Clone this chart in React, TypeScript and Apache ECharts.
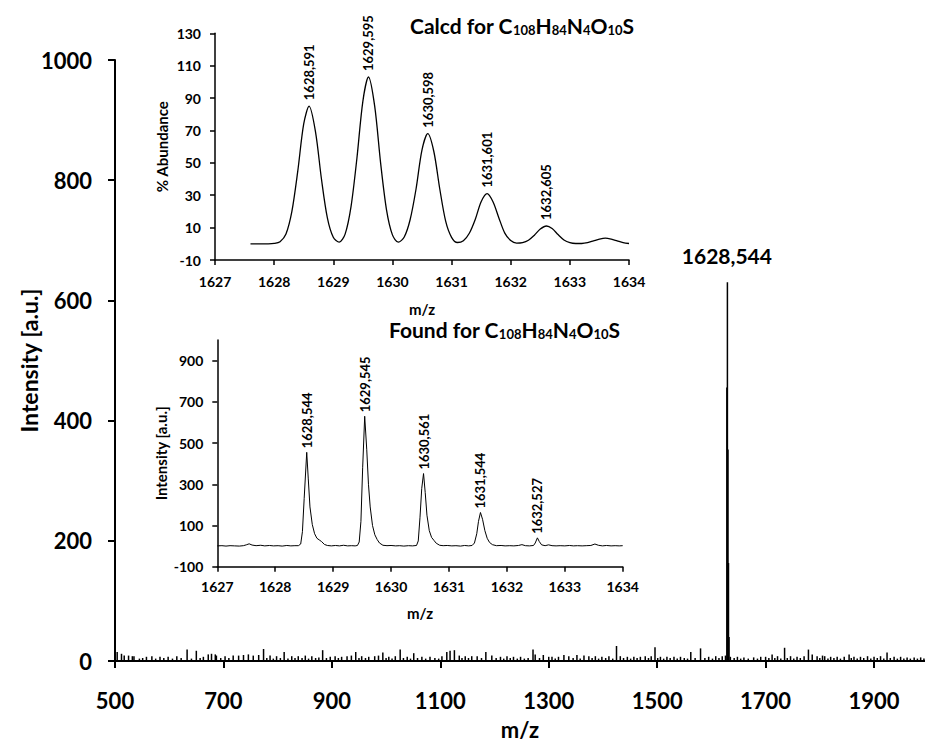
import { useEffect, useRef } from "react";
import * as echarts from "echarts";

// ---- survey spectrum (m/z 500–2000) ----
const surveyXTicks = [500, 700, 900, 1100, 1300, 1500, 1700, 1900];
const surveyYTicks = [0, 200, 400, 600, 800, 1000];

// background spikes of the survey trace: [m/z, intensity]
const surveyNoise: [number, number][] = [
  [504, 15], [512, 12], [517, 9], [525, 9], [532, 8], [535, 8], [545, 4], [551, 5], [558, 7], [568, 8],
  [575, 4], [583, 7], [590, 5], [598, 7], [606, 4], [614, 8], [622, 5], [633, 19], [641, 4], [650, 17],
  [657, 5], [663, 7], [672, 11], [678, 12], [685, 11], [687, 9], [695, 5], [703, 8], [710, 5], [718, 9],
  [728, 9], [737, 10], [746, 11], [755, 9], [765, 10], [774, 20], [780, 5], [786, 9], [792, 4], [798, 8],
  [805, 5], [812, 15], [819, 4], [826, 8], [832, 5], [838, 8], [845, 5], [851, 9], [857, 4], [863, 8],
  [870, 5], [876, 6], [883, 18], [890, 5], [897, 7], [906, 8], [912, 5], [918, 7], [928, 8], [936, 9],
  [944, 15], [950, 5], [955, 8], [962, 5], [968, 7], [979, 8], [986, 9], [994, 14], [1000, 5], [1005, 7],
  [1011, 4], [1017, 8], [1026, 19], [1032, 5], [1039, 7], [1045, 4], [1051, 13], [1058, 5], [1066, 7], [1073, 4],
  [1081, 7], [1090, 5], [1097, 4], [1103, 8], [1112, 15], [1118, 17], [1126, 18], [1135, 9], [1140, 5], [1146, 8],
  [1152, 5], [1158, 8], [1168, 8], [1176, 5], [1184, 15], [1195, 9], [1203, 5], [1211, 7], [1217, 4], [1223, 8],
  [1229, 5], [1235, 7], [1242, 4], [1248, 7], [1255, 4], [1262, 5], [1271, 19], [1275, 11], [1283, 5], [1290, 10],
  [1300, 7], [1306, 7], [1312, 4], [1318, 7], [1328, 10], [1337, 8], [1345, 5], [1352, 10], [1358, 4], [1365, 9],
  [1374, 8], [1380, 5], [1386, 8], [1392, 4], [1398, 7], [1405, 5], [1411, 8], [1418, 4], [1425, 25], [1432, 8],
  [1438, 5], [1445, 7], [1451, 4], [1457, 7], [1463, 5], [1469, 7], [1478, 8], [1484, 5], [1489, 8], [1496, 23],
  [1501, 5], [1506, 7], [1512, 4], [1518, 7], [1524, 5], [1531, 7], [1537, 4], [1543, 7], [1550, 5], [1556, 4],
  [1562, 15], [1570, 5], [1580, 21], [1588, 5], [1595, 7], [1602, 4], [1608, 8], [1614, 5], [1620, 8], [1626, 9],
  [1635, 7], [1642, 5], [1648, 7], [1654, 4], [1660, 6], [1668, 4], [1678, 6], [1685, 4], [1691, 7], [1700, 7],
  [1706, 5], [1712, 11], [1717, 5], [1722, 8], [1728, 4], [1735, 22], [1740, 5], [1746, 8], [1752, 4], [1758, 7],
  [1764, 5], [1771, 8], [1779, 19], [1786, 11], [1795, 8], [1800, 5], [1805, 9], [1809, 8], [1815, 4], [1820, 7],
  [1826, 5], [1832, 7], [1838, 4], [1845, 7], [1854, 11], [1858, 5], [1863, 7], [1869, 4], [1875, 7], [1881, 5],
  [1888, 8], [1894, 4], [1900, 7], [1906, 5], [1912, 8], [1918, 4], [1924, 14], [1930, 5], [1937, 7], [1943, 4],
  [1949, 7], [1955, 4], [1961, 6], [1967, 4], [1974, 6], [1980, 4], [1986, 6], [1992, 4],
];

// ---- molecular-ion cluster, found (shared by the survey trace and the zoomed trace) ----
const foundPeakMz = [1628.544, 1629.545, 1630.561, 1631.544, 1632.527];
const foundPeakIntensity = [455, 630, 352, 163, 40];

// zoomed found trace, points between the apexes: [m/z, intensity]
const foundProfile: [number, number][] = [
  [1627.0, 1], [1627.08, 2], [1627.15, 0], [1627.22, 2], [1627.3, 1], [1627.38, 0], [1627.45, 2], [1627.5, 6],
  [1627.55, 11], [1627.6, 5], [1627.67, 2], [1627.75, 4], [1627.82, 1], [1627.9, 3], [1627.97, 1], [1628.05, 2],
  [1628.12, 0], [1628.2, 3], [1628.27, 1], [1628.34, 2], [1628.4, 2], [1628.44, 10], [1628.47, 70], [1628.5, 230],
  [1628.57, 330], [1628.6, 190], [1628.64, 105], [1628.68, 60], [1628.72, 38], [1628.76, 30], [1628.8, 22],
  [1628.85, 8], [1628.9, 3], [1628.97, 1], [1629.04, 3], [1629.11, 1], [1629.18, 4], [1629.25, 1], [1629.32, 2],
  [1629.38, 1], [1629.42, 3], [1629.45, 20], [1629.48, 120], [1629.51, 380],
  [1629.58, 470], [1629.61, 300], [1629.64, 190], [1629.68, 100], [1629.72, 55], [1629.76, 32], [1629.8, 15],
  [1629.86, 4], [1629.93, 2], [1630.0, 3], [1630.08, 1], [1630.15, 2], [1630.22, 0], [1630.3, 2], [1630.37, 1],
  [1630.44, 3], [1630.47, 25], [1630.5, 140], [1630.53, 280],
  [1630.59, 260], [1630.62, 150], [1630.66, 75], [1630.7, 42], [1630.74, 28], [1630.78, 14], [1630.84, 4],
  [1630.9, 2], [1630.97, 3], [1631.05, 1], [1631.12, 2], [1631.2, 0], [1631.27, 3], [1631.34, 1], [1631.4, 3],
  [1631.44, 15], [1631.48, 60], [1631.51, 120],
  [1631.58, 130], [1631.62, 75], [1631.66, 38], [1631.7, 18], [1631.75, 7], [1631.82, 2], [1631.9, 3],
  [1631.97, 1], [1632.05, 2], [1632.12, 1], [1632.2, 3], [1632.26, 7], [1632.32, 2], [1632.39, 1], [1632.46, 3],
  [1632.49, 15],
  [1632.56, 22], [1632.6, 6], [1632.66, 2], [1632.72, 6], [1632.78, 2], [1632.85, 1], [1632.92, 2], [1633.0, 1],
  [1633.08, 3], [1633.15, 1], [1633.22, 2], [1633.3, 1], [1633.37, 2], [1633.45, 3], [1633.52, 10], [1633.58, 4],
  [1633.65, 1], [1633.72, 3], [1633.8, 1], [1633.87, 2], [1633.94, 1], [1634.0, 2],
];

// ---- calculated isotope pattern ----
const calcdPeakMz = [1628.591, 1629.595, 1630.598, 1631.601, 1632.605];
const calcdPeakAbundance = [85, 103, 68, 31, 11];

// calculated envelope, points between the labelled apexes: [m/z, % abundance]
const calcdProfile: [number, number][] = [
  [1627.6, 0], [1627.7, 0], [1627.8, 0], [1627.9, 0], [1628.0, 0.2], [1628.1, 1.3], [1628.2, 6], [1628.3, 20],
  [1628.4, 45], [1628.5, 74], [1628.7, 69], [1628.8, 40], [1628.9, 16], [1629.0, 4], [1629.1, 1], [1629.2, 6],
  [1629.3, 23], [1629.4, 53], [1629.5, 88], [1629.7, 85], [1629.8, 50], [1629.9, 21], [1630.0, 5.5], [1630.1, 1],
  [1630.2, 4.2], [1630.3, 15], [1630.4, 34], [1630.5, 58], [1630.7, 57], [1630.8, 34], [1630.9, 14], [1631.0, 4],
  [1631.1, 0.8], [1631.2, 1.9], [1631.3, 6.5], [1631.4, 15], [1631.5, 26], [1631.7, 26], [1631.8, 16], [1631.9, 6.6],
  [1632.0, 2], [1632.1, 0.4], [1632.2, 0.7], [1632.3, 2.2], [1632.4, 5.3], [1632.5, 9.1], [1632.7, 9.4], [1632.8, 5.7],
  [1632.9, 2.4], [1633.0, 0.7], [1633.1, 0.2], [1633.2, 0.2], [1633.3, 0.7], [1633.4, 1.8], [1633.5, 2.9], [1633.6, 3.5],
  [1633.7, 2.9], [1633.8, 1.8], [1633.9, 0.7], [1634.0, 0.2],
];

const insetXTicks = [1627, 1628, 1629, 1630, 1631, 1632, 1633, 1634];
const calcdYTicks = [-10, 10, 30, 50, 70, 90, 110, 130];
const foundYTicks = [-100, 100, 300, 500, 700, 900];

const FONT = "Lato";
const txt = (size: number) => ({
  fontFamily: FONT,
  fontWeight: "bold" as const,
  fontSize: size,
  color: "#000",
});
const mzText = (v: number) => v.toFixed(3).replace(".", ",");
const byMz = (a: number[], b: number[]) => a[0] - b[0];

function valueAxis(
  gridIndex: number,
  min: number,
  max: number,
  ticks: number[],
  o: { width: number; tick: number; size: number; margin: number; name: string; nameGap: number; nameSize: number }
) {
  return {
    type: "value",
    gridIndex,
    min,
    max,
    name: o.name,
    nameLocation: "middle",
    nameGap: o.nameGap,
    nameMoveOverlap: false,
    nameTextStyle: txt(o.nameSize),
    axisLine: { show: true, onZero: false, lineStyle: { color: "#000", width: o.width } },
    axisTick: {
      show: true,
      inside: false,
      length: o.tick,
      customValues: ticks,
      lineStyle: { color: "#000", width: o.width },
    },
    axisLabel: {
      ...txt(o.size),
      margin: o.margin,
      customValues: ticks,
      formatter: (v: number) => String(v),
    },
    splitLine: { show: false },
  };
}

function formula(lead: string) {
  return `{b|${lead} C}{s|108}{b|H}{s|84}{b|N}{s|4}{b|O}{s|10}{b|S}`;
}
const formulaRich = {
  b: { ...txt(21), lineHeight: 24, verticalAlign: "bottom" },
  s: { ...txt(13), lineHeight: 9, verticalAlign: "bottom" },
};

// label markers are invisible points; keep their text fully opaque
const markerStyle = { color: "#000", opacity: 1 };

export default function App() {
  const ref = useRef<HTMLDivElement>(null);

  useEffect(() => {
    if (!ref.current) return;
    const chart = echarts.init(ref.current, undefined, { renderer: "svg" });

    const surveyData = [...surveyNoise, ...foundPeakMz.map((m, i) => [m, foundPeakIntensity[i]] as [number, number])].sort(byMz);
    const foundData = [...foundProfile, ...foundPeakMz.map((m, i) => [m, foundPeakIntensity[i]] as [number, number])].sort(byMz);
    const calcdData = [...calcdProfile, ...calcdPeakMz.map((m, i) => [m, calcdPeakAbundance[i]] as [number, number])].sort(byMz);

    const peakLabel = (size: number, distance: number) => ({
      show: true,
      position: "top",
      distance,
      rotate: 90,
      align: "left",
      verticalAlign: "middle",
      ...txt(size),
      formatter: (p: any) => mzText(p.value[0]),
    });

    chart.setOption({
      animation: false,
      backgroundColor: "#fff",
      grid: [
        { left: 115, top: 60, width: 810, height: 601, outerBoundsMode: "none" },
        { left: 215, top: 33.3, width: 414, height: 226.7, outerBoundsMode: "none" },
        { left: 217.3, top: 340, width: 405.4, height: 226.7, outerBoundsMode: "none" },
      ],
      xAxis: [
        valueAxis(0, 500, 1994, surveyXTicks, { width: 2, tick: 7, size: 22, margin: 28, name: "m/z", nameGap: 57, nameSize: 22 }),
        valueAxis(1, 1627, 1634, insetXTicks, { width: 1.5, tick: 5, size: 14, margin: 14, name: "m/z", nameGap: 41, nameSize: 15 }),
        valueAxis(2, 1627, 1634, insetXTicks, { width: 1.5, tick: 5, size: 14, margin: 13, name: "m/z", nameGap: 39, nameSize: 15 }),
      ],
      yAxis: [
        valueAxis(0, 0, 1000, surveyYTicks, { width: 2, tick: 7, size: 22, margin: 23, name: "Intensity [a.u.]", nameGap: 75, nameSize: 23 }),
        valueAxis(1, -10, 130, calcdYTicks, { width: 1.5, tick: 5, size: 14, margin: 14, name: "% Abundance", nameGap: 46, nameSize: 15 }),
        valueAxis(2, -100, 1000, foundYTicks, { width: 1.5, tick: 5, size: 14, margin: 14, name: "Intensity [a.u.]", nameGap: 49, nameSize: 15 }),
      ],
      series: [
        {
          type: "bar",
          xAxisIndex: 0,
          yAxisIndex: 0,
          data: surveyData,
          barWidth: 1.5,
          itemStyle: { color: "#000" },
          silent: true,
        },
        {
          type: "scatter",
          xAxisIndex: 0,
          yAxisIndex: 0,
          symbolSize: 0,
          itemStyle: markerStyle,
          data: [[foundPeakMz[0], Math.max(...foundPeakIntensity)]],
          label: {
            show: true,
            position: "top",
            distance: 16,
            ...txt(21),
            formatter: (p: any) => mzText(p.value[0]),
          },
        },
        {
          type: "line",
          xAxisIndex: 1,
          yAxisIndex: 1,
          data: calcdData,
          showSymbol: false,
          smooth: 0.3,
          lineStyle: { color: "#000", width: 1.3 },
        },
        {
          type: "scatter",
          xAxisIndex: 1,
          yAxisIndex: 1,
          symbolSize: 0,
          itemStyle: markerStyle,
          data: calcdPeakMz.map((m, i) => [m, calcdPeakAbundance[i]]),
          label: peakLabel(13, 6),
        },
        {
          type: "line",
          xAxisIndex: 2,
          yAxisIndex: 2,
          data: foundData,
          showSymbol: false,
          lineStyle: { color: "#000", width: 1 },
        },
        {
          type: "scatter",
          xAxisIndex: 2,
          yAxisIndex: 2,
          symbolSize: 0,
          itemStyle: markerStyle,
          data: foundPeakMz.map((m, i) => [m, foundPeakIntensity[i]]),
          label: peakLabel(13, 4),
        },
      ],
      graphic: [
        {
          type: "text",
          x: 410,
          y: 24,
          style: { text: formula("Calcd for"), rich: formulaRich, textVerticalAlign: "middle", fill: "#000" },
        },
        {
          type: "text",
          x: 389,
          y: 328,
          style: { text: formula("Found for"), rich: formulaRich, textVerticalAlign: "middle", fill: "#000" },
        },
      ],
    });

    return () => chart.dispose();
  }, []);

  return (
    <div
      ref={ref}
      style={{ position: "absolute", left: 0, top: 0, width: 925, height: 742, background: "#fff" }}
    />
  );
}
